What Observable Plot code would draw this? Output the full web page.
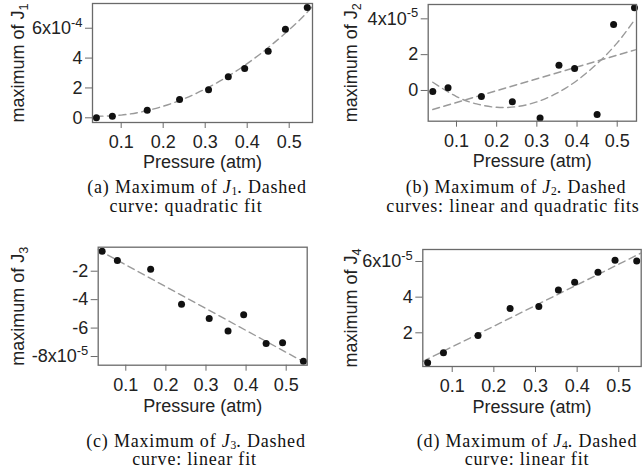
<!DOCTYPE html>
<html><head><meta charset="utf-8">
<script src="https://cdn.jsdelivr.net/npm/d3@7"></script>
<script src="https://cdn.jsdelivr.net/npm/@observablehq/plot@0.6"></script>
<style>
body{margin:0;background:#fff;}
#root{position:relative;width:643px;height:470px;overflow:hidden;background:#fff;}
.panel{position:absolute;}
.cap{position:absolute;font-family:"Liberation Serif","Times New Roman",serif;font-size:18px;line-height:10px;height:10px;white-space:nowrap;transform:translateX(-50%);color:#111;letter-spacing:0.8px;}
.cap sub{font-size:64%;vertical-align:-0.17em;line-height:0;letter-spacing:0;}
</style></head><body><div id="root"></div>
<script>
// ---- data ----
const pressure = [0.041, 0.079, 0.162, 0.239, 0.308, 0.355, 0.394, 0.45, 0.491, 0.543];
const j1Max = [0.00e-4, 0.10e-4, 0.50e-4, 1.23e-4, 1.88e-4, 2.75e-4, 3.31e-4, 4.45e-4, 5.93e-4, 7.38e-4];
const j2Max = [-0.06e-5, 0.15e-5, -0.34e-5, -0.63e-5, -1.53e-5, 1.41e-5, 1.23e-5, -1.34e-5, 3.69e-5, 4.62e-5];
const j3Max = [-0.59e-5, -1.25e-5, -1.86e-5, -4.32e-5, -5.33e-5, -6.20e-5, -5.07e-5, -7.09e-5, -7.04e-5, -8.33e-5];
const j4Max = [0.32e-5, 0.88e-5, 1.85e-5, 3.37e-5, 3.47e-5, 4.40e-5, 4.83e-5, 5.39e-5, 6.07e-5, 6.03e-5];

// dashed fit curves
const fit1X = [0.04, 0.1, 0.16, 0.22, 0.28, 0.34, 0.4, 0.46, 0.52, 0.555];
const fit1Y = [0.10e-4, 0.18e-4, 0.47e-4, 0.96e-4, 1.65e-4, 2.54e-4, 3.63e-4, 4.93e-4, 6.42e-4, 7.45e-4];
const fit2LinX = [0.041, 0.545];
const fit2LinY = [-1.06e-5, 2.27e-5];
const fit2QuadX = [0.041, 0.1, 0.15, 0.2, 0.25, 0.3, 0.35, 0.4, 0.45, 0.5, 0.545];
const fit2QuadY = [0.46e-5, -0.34e-5, -0.75e-5, -0.94e-5, -0.9e-5, -0.64e-5, -0.15e-5, 0.56e-5, 1.5e-5, 2.66e-5, 4.0e-5];
const fit3X = [0.03, 0.555];
const fit3Y = [-0.48e-5, -8.55e-5];
const fit4X = [0.03, 0.555];
const fit4Y = [0.40e-5, 6.49e-5];

// ticks and labels
const xTicks = [0.1, 0.2, 0.3, 0.4, 0.5];
const xTickLabels = ["0.1", "0.2", "0.3", "0.4", "0.5"];
const y1Ticks = [0, 2e-4, 4e-4, 6e-4];
const y1TickLabels = ["0", "2", "4", "6x10^-4"];
const y2Ticks = [0, 2e-5, 4e-5];
const y2TickLabels = ["0", "2", "4x10^-5"];
const y3Ticks = [-2e-5, -4e-5, -6e-5, -8e-5];
const y3TickLabels = ["-2", "-4", "-6", "-8x10^-5"];
const y4Ticks = [2e-5, 4e-5, 6e-5];
const y4TickLabels = ["2", "4", "6x10^-5"];
const xLabel = "Pressure (atm)";
const yLabels = ["maximum of J_1", "maximum of J_2", "maximum of J_3", "maximum of J_4"];
const captions = [
  ["(a) Maximum of <i>J</i><sub>1</sub>. Dashed", "curve: quadratic fit"],
  ["(b) Maximum of <i>J</i><sub>2</sub>. Dashed", "curves: linear and quadratic fits"],
  ["(c) Maximum of <i>J</i><sub>3</sub>. Dashed", "curve: linear fit"],
  ["(d) Maximum of <i>J</i><sub>4</sub>. Dashed", "curve: linear fit"]
];

const toRows = (xs, ys) => xs.map((v, i) => ({x: v, y: ys[i]}));
const root = document.getElementById("root");
const FS = 18;

function decorate(svg) {
  d3.select(svg).selectAll("text").each(function() {
    const s = this.textContent;
    let m = s.match(/^(.*)\^(.*)$/);
    if (m) {
      this.textContent = m[1];
      d3.select(this).append("tspan").attr("dy", "-0.55em").attr("font-size", "0.72em").text(m[2]);
      return;
    }
    m = s.match(/^(.*)_(.*)$/);
    if (m) {
      this.textContent = m[1];
      d3.select(this).append("tspan").attr("dy", "0.3em").attr("font-size", "0.7em").text(m[2]);
    }
  });
}

function panel(o) {
  const plot = Plot.plot({
    width: o.width, height: o.height,
    marginLeft: o.mL, marginRight: o.mR, marginTop: o.mT, marginBottom: o.mB,
    style: {fontFamily: '"Liberation Sans", Arial, sans-serif', fontSize: FS + "px", color: "#222", background: "transparent", overflow: "visible"},
    x: {domain: o.xDomain},
    y: {domain: o.yDomain},
    marks: [
      ...o.fits.map(f => Plot.line(toRows(f.x, f.y), {x: "x", y: "y", stroke: "#9a9a9a", strokeWidth: 1.4, strokeDasharray: "7,4.5", curve: f.curve, clip: true})),
      Plot.dot(toRows(pressure, o.y), {x: "x", y: "y", r: 3.5, fill: "#111", stroke: "none"}),
      Plot.frame({stroke: "#6a6a6a", strokeWidth: 1.3}),
      Plot.axisX({ticks: xTicks, tickFormat: d => xTickLabels[xTicks.indexOf(d)], tickSize: 6, tickPadding: 7, label: null, stroke: "#6a6a6a", fontSize: FS}),
      Plot.axisY({ticks: o.yTicks, tickFormat: d => o.yTickLabels[o.yTicks.indexOf(d)], tickSize: 7, tickPadding: 3, label: null, stroke: "#6a6a6a", fontSize: FS}),
      Plot.text([xLabel], {frameAnchor: "bottom", dy: o.xLabDy, lineAnchor: "bottom", text: d => d, fontSize: FS}),
      Plot.text([o.ylab], {frameAnchor: "left", dx: o.yLabDx, rotate: -90, lineAnchor: "bottom", textAnchor: "middle", text: d => d, fontSize: FS})
    ]
  });
  decorate(plot);
  plot.classList.add("panel");
  plot.style.left = o.left + "px";
  plot.style.top = o.top + "px";
  root.appendChild(plot);
}

panel({left: 0, top: 0, width: 322, height: 172, mL: 92, mR: 10, mT: 3, mB: 50,
  xDomain: [0.0317, 0.5555], yDomain: [-0.315e-4, 7.656e-4], y: j1Max,
  yTicks: y1Ticks, yTickLabels: y1TickLabels, ylab: yLabels[0], xLabDy: 45, yLabDx: -68.7,
  fits: [{x: fit1X, y: fit1Y, curve: "natural"}]});
panel({left: 322, top: 0, width: 321, height: 172, mL: 105.7, mR: 7, mT: 4, mB: 51.3,
  xDomain: [0.0296, 0.548], yDomain: [-1.715e-5, 4.80e-5], y: j2Max,
  yTicks: y2Ticks, yTickLabels: y2TickLabels, ylab: yLabels[1], xLabDy: 46, yLabDx: -71,
  fits: [{x: fit2LinX, y: fit2LinY, curve: "linear"}, {x: fit2QuadX, y: fit2QuadY, curve: "natural"}]});
panel({left: 0, top: 235, width: 322, height: 185, mL: 97.7, mR: 15.3, mT: 11.7, mB: 55.3,
  xDomain: [0.0312, 0.5524], yDomain: [-8.61e-5, -0.312e-5], y: j3Max,
  yTicks: y3Ticks, yTickLabels: y3TickLabels, ylab: yLabels[2], xLabDy: 47, yLabDx: -74.4,
  fits: [{x: fit3X, y: fit3Y, curve: "linear"}]});
panel({left: 322, top: 235, width: 321, height: 185, mL: 100.3, mR: 2.3, mT: 14, mB: 54,
  xDomain: [0.0294, 0.5538], yDomain: [0.11e-5, 6.673e-5], y: j4Max,
  yTicks: y4Ticks, yTickLabels: y4TickLabels, ylab: yLabels[3], xLabDy: 46, yLabDx: -65.6,
  fits: [{x: fit4X, y: fit4Y, curve: "linear"}]});

// captions: [center x, baseline of line 1, center x of line 2]
const capPos = [[197, 193.3, 186], [516, 193.3, 513], [196, 446.7, 194.5], [527, 446.7, 527]];
const LINE_GAP = 18.6;
const BASE_OFF = 11.1; // baseline distance from div top for 18px font, 10px line-height
captions.forEach((c, i) => {
  const [cx, base, cx2] = capPos[i];
  const l1 = document.createElement("div");
  l1.className = "cap"; l1.innerHTML = c[0];
  l1.style.left = cx + "px"; l1.style.top = (base - BASE_OFF) + "px";
  root.appendChild(l1);
  const l2 = document.createElement("div");
  l2.className = "cap"; l2.innerHTML = c[1];
  l2.style.left = cx2 + "px"; l2.style.top = (base + LINE_GAP - BASE_OFF) + "px";
  root.appendChild(l2);
});
</script>
</body></html>
